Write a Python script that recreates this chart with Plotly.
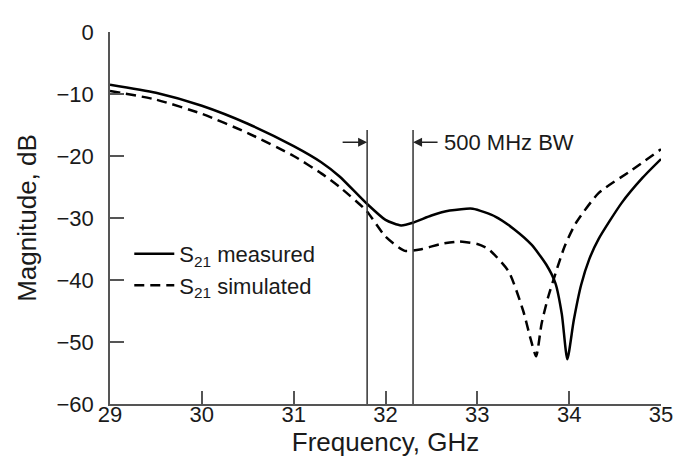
import plotly.graph_objects as go

# Measured S21
freq_meas = [29.0, 29.5, 30.0, 30.5, 31.0, 31.3, 31.5, 31.79, 32.0, 32.17, 32.31, 32.5, 32.7,
             32.95, 33.2, 33.4, 33.59, 33.75, 33.85, 33.92, 33.98, 34.05, 34.13, 34.22, 34.32, 34.57, 34.8, 35.0]
s21_meas = [-8.5, -9.8, -11.9, -14.8, -18.4, -21.0, -23.3, -27.6, -30.3, -31.2, -30.7, -29.6, -28.8,
            -28.5, -29.8, -31.8, -34.3, -37.5, -40.5, -45.5, -52.8, -46.5, -40.8, -36.6, -33.4, -27.6, -23.5, -20.5]

# Simulated S21
freq_sim = [29.0, 29.5, 30.0, 30.5, 31.0, 31.3, 31.5, 31.79, 32.0, 32.21, 32.4, 32.6, 32.8, 33.0,
            33.12, 33.34, 33.5, 33.58, 33.64, 33.7, 33.77, 33.85, 33.95, 34.07, 34.32, 34.68, 35.0]
s21_sim = [-9.5, -10.9, -13.2, -16.3, -20.0, -22.8, -25.0, -28.8, -33.0, -35.3, -35.0, -34.2, -33.8, -34.2,
           -35.0, -38.6, -45.0, -49.5, -52.3, -47.0, -42.8, -39.0, -34.6, -30.9, -26.0, -22.3, -18.9]

# Bandwidth markers
bw_lines = [31.8, 32.3]
bw_top = -15.8
bw_label = "500 MHz BW"
arrow_level = -17.8

x_ticks = [29, 30, 31, 32, 33, 34, 35]
y_ticks = [0, -10, -20, -30, -40, -50, -60]

FONT = "Liberation Sans, Arial, sans-serif"
INK = "#1a1a1a"
FS = 22

fig = go.Figure()
fig.add_trace(go.Scatter(x=freq_meas, y=s21_meas, mode="lines", name="S<sub>21</sub> measured",
                         line=dict(color="black", width=2.5, shape="spline", smoothing=0.6)))
fig.add_trace(go.Scatter(x=freq_sim, y=s21_sim, mode="lines", name="S<sub>21</sub> simulated",
                         line=dict(color="black", width=2.5, dash="10px,6px", shape="spline", smoothing=0.6)))

for xv in bw_lines:
    fig.add_shape(type="line", x0=xv, x1=xv, y0=-60, y1=bw_top, xref="x", yref="y",
                  line=dict(color="#333333", width=1.5))

fig.add_annotation(x=bw_lines[0], y=arrow_level, ax=-26, ay=0, text="", showarrow=True,
                   arrowhead=2, arrowsize=1.2, arrowwidth=1.5, arrowcolor="#222222")
fig.add_annotation(x=bw_lines[1], y=arrow_level, ax=26, ay=0, text="", showarrow=True,
                   arrowhead=2, arrowsize=1.2, arrowwidth=1.5, arrowcolor="#222222")
fig.add_annotation(x=bw_lines[1], y=arrow_level, xshift=29, text=bw_label, showarrow=False,
                   xanchor="left", yanchor="middle", font=dict(family=FONT, size=FS, color=INK))

fig.update_layout(
    width=681, height=464,
    margin=dict(l=102, r=28, t=15, b=68),
    paper_bgcolor="white", plot_bgcolor="white",
    font=dict(family=FONT, size=FS, color=INK),
    showlegend=True,
    legend=dict(x=0.035, y=0.46, xanchor="left", yanchor="top", bgcolor="rgba(0,0,0,0)",
                font=dict(family=FONT, size=FS, color=INK), itemwidth=40, tracegroupgap=0),
)
fig.update_xaxes(range=[29, 35], tickvals=x_ticks, ticks="inside", ticklen=13, tickwidth=1.5,
                 tickcolor="#555555", showline=True, linecolor="#555555", linewidth=1.5,
                 showgrid=False, zeroline=False, title=dict(text="Frequency, GHz", standoff=4),
                 tickfont=dict(size=FS), ticklabelstandoff=-10)
fig.update_yaxes(range=[-60, 0], tickvals=y_ticks, ticks="inside", ticklen=14, tickwidth=1.5,
                 tickcolor="#555555", showline=True, linecolor="#555555", linewidth=1.5,
                 showgrid=False, zeroline=False, title=dict(text="Magnitude, dB", standoff=12),
                 tickfont=dict(size=FS), ticklabelstandoff=10)

fig.write_html("out.html")
